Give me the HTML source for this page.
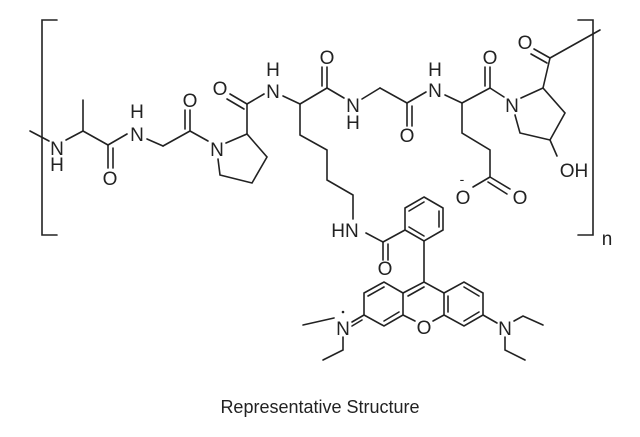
<!DOCTYPE html>
<html><head><style>
html,body{margin:0;padding:0;background:#fff;}
svg{display:block;}
text{font-family:"Liberation Sans",sans-serif;font-size:19px;fill:#222;}
</style></head><body>
<svg width="640" height="437" viewBox="0 0 640 437" xmlns="http://www.w3.org/2000/svg">
<g stroke="#222" stroke-width="1.6" fill="none" stroke-linecap="round">
<polyline points="57,20 42,20 42,235 57,235"/>
<polyline points="578,20 593,20 593,235 578,235"/>
<line x1="30" y1="131" x2="49" y2="141"/>
<line x1="66" y1="140" x2="83" y2="131"/>
<line x1="83" y1="131" x2="83" y2="100"/>
<line x1="83" y1="131" x2="108" y2="145"/>
<line x1="108" y1="145" x2="108" y2="168"/>
<line x1="113" y1="148" x2="113" y2="168"/>
<line x1="108" y1="145" x2="127" y2="134"/>
<line x1="147" y1="139" x2="163" y2="146"/>
<line x1="163" y1="146" x2="190" y2="131"/>
<line x1="190" y1="131" x2="190" y2="110"/>
<line x1="185" y1="129" x2="185" y2="110"/>
<line x1="190" y1="131" x2="208" y2="141"/>
<polyline points="226,143 247,134 267,157 252,183 220,175 218,159"/>
<line x1="247" y1="134" x2="247" y2="104"/>
<line x1="247" y1="104" x2="230" y2="94"/>
<line x1="244" y1="109" x2="227" y2="99"/>
<line x1="247" y1="104" x2="264" y2="94"/>
<line x1="283" y1="96" x2="300" y2="104"/>
<polyline points="300,104 300,135 327,150 327,180 353,195 353,219"/>
<line x1="300" y1="104" x2="327" y2="88"/>
<line x1="327" y1="88" x2="327" y2="67"/>
<line x1="322" y1="86" x2="322" y2="67"/>
<line x1="327" y1="88" x2="344" y2="98"/>
<line x1="362" y1="99" x2="380" y2="88"/>
<line x1="380" y1="88" x2="407" y2="103"/>
<line x1="407" y1="103" x2="407" y2="126"/>
<line x1="412" y1="106" x2="412" y2="126"/>
<line x1="407" y1="103" x2="426" y2="92"/>
<line x1="445" y1="95" x2="462" y2="103"/>
<line x1="462" y1="103" x2="490" y2="88"/>
<line x1="490" y1="88" x2="490" y2="67"/>
<line x1="485" y1="86" x2="485" y2="67"/>
<line x1="490" y1="88" x2="504" y2="97"/>
<polyline points="521,98 543,88 565,113 550,140 520,133 515,115"/>
<line x1="550" y1="140" x2="557" y2="156"/>
<line x1="543" y1="88" x2="550" y2="58"/>
<line x1="550" y1="58" x2="534" y2="49"/>
<line x1="547" y1="63" x2="531" y2="54"/>
<line x1="550" y1="58" x2="600" y2="30"/>
<polyline points="462,103 462,133 490,150 490,177"/>
<line x1="490" y1="177" x2="473" y2="187"/>
<line x1="490" y1="177" x2="510" y2="189"/>
<line x1="488" y1="182" x2="507" y2="194"/>
<line x1="366" y1="233" x2="383" y2="242"/>
<line x1="383" y1="242" x2="383" y2="260"/>
<line x1="388" y1="244" x2="388" y2="260"/>
<line x1="383" y1="242" x2="405" y2="230"/>
<polygon points="424,197 443,208 443,230 424,241 405,230 405,208"/>
<line x1="409" y1="211" x2="424" y2="202"/>
<line x1="439" y1="211" x2="439" y2="227"/>
<line x1="424" y1="236" x2="409" y2="227"/>
<line x1="424" y1="241" x2="424" y2="282"/>
<polygon points="403,293 384,282 364,293 364,315 384,326 403,315"/>
<polyline points="403,293 424,282 444,293"/>
<line x1="403" y1="315" x2="415" y2="321"/>
<line x1="444" y1="315" x2="433" y2="321"/>
<polygon points="444,293 464,282 483,293 483,315 464,326 444,315"/>
<line x1="368" y1="296" x2="384" y2="287"/>
<line x1="384" y1="321" x2="399" y2="312"/>
<line x1="408" y1="296" x2="424" y2="287"/>
<line x1="464" y1="287" x2="479" y2="296"/>
<line x1="448" y1="296" x2="448" y2="312"/>
<line x1="464" y1="321" x2="479" y2="312"/>
<line x1="364" y1="315" x2="352" y2="322"/>
<line x1="362" y1="320" x2="352" y2="326"/>
<line x1="334" y1="318" x2="303" y2="325"/>
<polyline points="343,337 343,350 323,360"/>
<line x1="483" y1="315" x2="497" y2="323"/>
<polyline points="514,321 523,316 543,325"/>
<polyline points="505,337 505,350 525,360"/>
</g>
<circle cx="343" cy="312" r="1.3" fill="#222"/>
<g text-anchor="middle">
<text x="57" y="155">N</text>
<text x="57" y="171">H</text>
<text x="110" y="185">O</text>
<text x="137" y="141">N</text>
<text x="137" y="118">H</text>
<text x="190" y="107">O</text>
<text x="217" y="156">N</text>
<text x="220" y="95">O</text>
<text x="273" y="98">N</text>
<text x="273" y="76">H</text>
<text x="327" y="64">O</text>
<text x="353" y="112">N</text>
<text x="353" y="129">H</text>
<text x="407" y="142">O</text>
<text x="435" y="97">N</text>
<text x="435" y="76">H</text>
<text x="490" y="64">O</text>
<text x="512" y="112">N</text>
<text x="525" y="49">O</text>
<text x="574" y="177">OH</text>
<text x="463" y="204">O</text>
<text x="462" y="184" style="font-size:14px">-</text>
<text x="520" y="204">O</text>
<text x="345" y="237">HN</text>
<text x="385" y="275">O</text>
<text x="424" y="334">O</text>
<text x="343" y="335">N</text>
<text x="505" y="335">N</text>
<text x="607" y="245">n</text>
<text x="320" y="413" style="font-size:18px">Representative Structure</text>
</g>
</svg>
</body></html>
